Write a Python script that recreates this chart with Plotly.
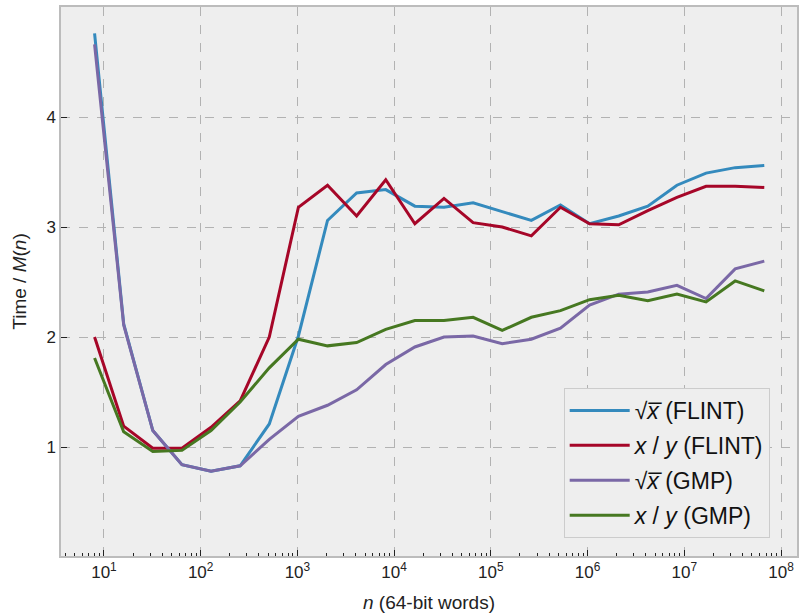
import plotly.graph_objects as go

n_words = [2**k for k in range(3, 27)]

sqrt_flint = [4.76, 2.12, 1.15, 0.84, 0.78, 0.83, 1.21, 2.01, 3.06, 3.31, 3.34, 3.19,
              3.18, 3.22, 3.14, 3.06, 3.20, 3.03, 3.10, 3.19, 3.38, 3.49, 3.54, 3.56]
div_flint = [2.00, 1.19, 0.99, 0.99, 1.18, 1.42, 2.00, 3.18, 3.38, 3.10, 3.43, 3.03,
             3.26, 3.04, 3.00, 2.92, 3.18, 3.03, 3.02, 3.15, 3.27, 3.37, 3.37, 3.36]
sqrt_gmp = [4.66, 2.11, 1.15, 0.84, 0.78, 0.83, 1.07, 1.28, 1.38, 1.52, 1.75, 1.91,
            2.00, 2.01, 1.94, 1.98, 2.08, 2.29, 2.39, 2.41, 2.47, 2.35, 2.62, 2.69]
div_gmp = [1.81, 1.14, 0.96, 0.97, 1.15, 1.41, 1.72, 1.98, 1.92, 1.95, 2.07, 2.15,
           2.15, 2.18, 2.06, 2.18, 2.24, 2.34, 2.38, 2.33, 2.39, 2.32, 2.51, 2.42]

series_names = ["√<i>x̅</i> (FLINT)", "<i>x</i> / <i>y</i> (FLINT)",
                "√<i>x̅</i> (GMP)", "<i>x</i> / <i>y</i> (GMP)"]
series_vals = [sqrt_flint, div_flint, sqrt_gmp, div_gmp]
colors = ["#348ABD", "#A60628", "#7A68A6", "#467821"]

x_tickvals = [10**k for k in range(1, 9)]
x_ticktext = ["10<sup>%d</sup>" % k for k in range(1, 9)]
x_minor = [m * 10**k for k in range(0, 9) for m in range(2, 10)]
y_tickvals = [1, 2, 3, 4]

fig = go.Figure()
for i, (name, vals, c) in enumerate(zip(series_names, series_vals, colors)):
    fig.add_trace(go.Scatter(x=n_words, y=vals, mode="lines", name=name,
                             legendgroup="g%d" % i,
                             line=dict(color=c, width=3)))

font_family = "Liberation Sans, Arial, sans-serif"
fig.update_layout(
    width=799, height=614,
    margin=dict(l=61, r=2, t=7, b=58),
    paper_bgcolor="white",
    plot_bgcolor="#eeeeee",
    font=dict(family=font_family, size=17, color="#222222"),
    showlegend=True,
    legend=dict(
        x=0.683, y=0.306, xanchor="left", yanchor="top",
        bgcolor="#eeeeee", bordercolor="#cccccc", borderwidth=1,
        font=dict(size=23, color="#111111"),
        tracegroupgap=2, itemwidth=60,
    ),
    xaxis=dict(
        type="log", range=[0.556, 8.165], automargin=False,
        tickmode="array", tickvals=x_tickvals, ticktext=x_ticktext,
        ticks="inside", ticklen=6, tickwidth=1, tickcolor="#222222",
        showgrid=True, gridcolor="#b2b2b2", griddash="dash", gridwidth=1,
        showline=True, mirror=True, linecolor="#bcbcbc", linewidth=1.5,
        zeroline=False,
        minor=dict(tickmode="array", tickvals=x_minor, ticks="inside",
                   ticklen=3, tickwidth=1, tickcolor="#222222", showgrid=False),
        title=dict(text="<i>n</i> (64-bit words)", font=dict(size=19)),
        tickfont=dict(size=17),
    ),
    yaxis=dict(
        range=[0.01, 5.0], automargin=False,
        tickmode="array", tickvals=y_tickvals,
        ticks="inside", ticklen=6, tickwidth=1, tickcolor="#222222",
        showgrid=True, gridcolor="#b2b2b2", griddash="dash", gridwidth=1,
        showline=True, mirror=True, linecolor="#bcbcbc", linewidth=1.5,
        zeroline=False,
        title=dict(text="Time / <i>M</i>(<i>n</i>)", font=dict(size=19)),
        tickfont=dict(size=17),
    ),
)

fig.write_html("out.html", config={"displayModeBar": False},
               post_script="document.body.style.margin='0';document.body.style.padding='0';")
